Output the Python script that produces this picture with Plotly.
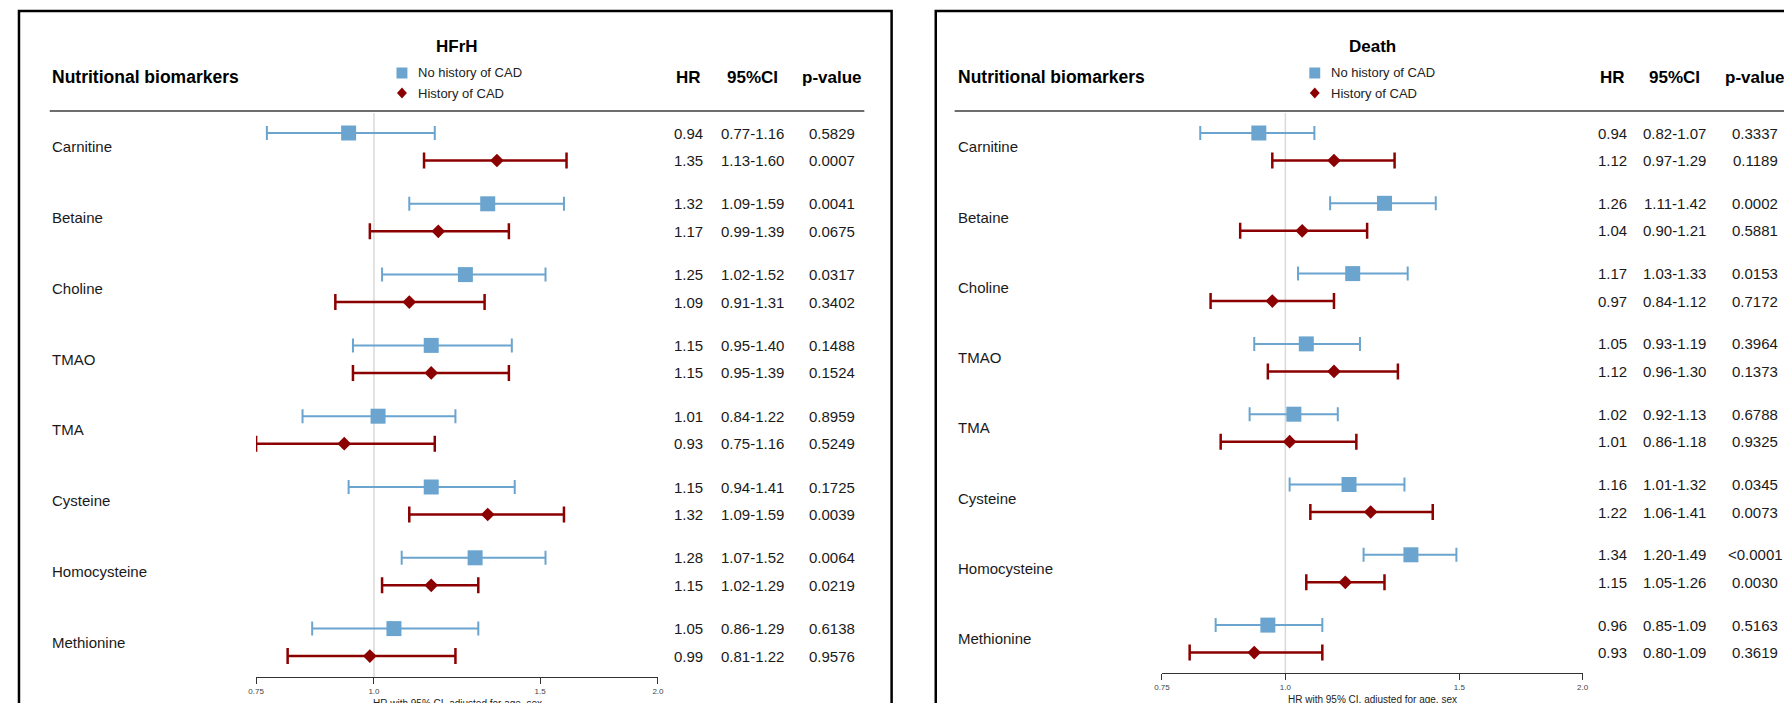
import math
import plotly.graph_objects as go

W, H = 1792, 703
OFF = 8  # page body margin that offsets the figure in the browser

biomarkers = ["Carnitine", "Betaine", "Choline", "TMAO", "TMA", "Cysteine", "Homocysteine", "Methionine"]

# HFrH panel
hfrh_no_hr = [0.94, 1.32, 1.25, 1.15, 1.01, 1.15, 1.28, 1.05]
hfrh_no_lo = [0.77, 1.09, 1.02, 0.95, 0.84, 0.94, 1.07, 0.86]
hfrh_no_hi = [1.16, 1.59, 1.52, 1.40, 1.22, 1.41, 1.52, 1.29]
hfrh_no_p = ["0.5829", "0.0041", "0.0317", "0.1488", "0.8959", "0.1725", "0.0064", "0.6138"]
hfrh_cad_hr = [1.35, 1.17, 1.09, 1.15, 0.93, 1.32, 1.15, 0.99]
hfrh_cad_lo = [1.13, 0.99, 0.91, 0.95, 0.75, 1.09, 1.02, 0.81]
hfrh_cad_hi = [1.60, 1.39, 1.31, 1.39, 1.16, 1.59, 1.29, 1.22]
hfrh_cad_p = ["0.0007", "0.0675", "0.3402", "0.1524", "0.5249", "0.0039", "0.0219", "0.9576"]

# Death panel
death_no_hr = [0.94, 1.26, 1.17, 1.05, 1.02, 1.16, 1.34, 0.96]
death_no_lo = [0.82, 1.11, 1.03, 0.93, 0.92, 1.01, 1.20, 0.85]
death_no_hi = [1.07, 1.42, 1.33, 1.19, 1.13, 1.32, 1.49, 1.09]
death_no_p = ["0.3337", "0.0002", "0.0153", "0.3964", "0.6788", "0.0345", "<0.0001", "0.5163"]
death_cad_hr = [1.12, 1.04, 0.97, 1.12, 1.01, 1.22, 1.15, 0.93]
death_cad_lo = [0.97, 0.90, 0.84, 0.96, 0.86, 1.06, 1.05, 0.80]
death_cad_hi = [1.29, 1.21, 1.12, 1.30, 1.18, 1.41, 1.26, 1.09]
death_cad_p = ["0.1189", "0.5881", "0.7172", "0.1373", "0.9325", "0.0073", "0.0030", "0.3619"]

tick_vals = [0.75, 1.0, 1.5, 2.0]
tick_text = ["0.75", "1.0", "1.5", "2.0"]
panel_titles = ["HFrH", "Death"]
group_names = ["No history of CAD", "History of CAD"]
col_headers = ["HR", "95%CI", "p-value"]
axis_title = "HR with 95% CI, adjusted for age, sex"

BLUE = "#6ba5cf"
RED = "#8b0000"
FONT = "Arial, 'Liberation Sans', sans-serif"
NARROW = "'Liberation Sans Narrow', 'Arial Narrow', Arial, sans-serif"
TXT = "#1a1a1a"


def px(x):
    return (x - OFF) / W


def py(y):
    return 1 - (y - OFF) / H


panels = [
    dict(title=panel_titles[0], xa="x", ya="y", xax="xaxis", yax="yaxis",
         ax0=250, ax1=655, axis_y=677, base=133.0, step=70.8, red_off=27.5,
         box=(11, 890.5), label_x=42, line=(42, 863), cols=(686, 750, 830),
         leg_x=397, title_y=47, atitle_y=703,
         data=(hfrh_no_hr, hfrh_no_lo, hfrh_no_hi, hfrh_no_p,
               hfrh_cad_hr, hfrh_cad_lo, hfrh_cad_hi, hfrh_cad_p)),
    dict(title=panel_titles[1], xa="x2", ya="y2", xax="xaxis2", yax="yaxis2",
         ax0=1163, ax1=1587, axis_y=673, base=133.0, step=70.3, red_off=27.5,
         box=(935, 1810), label_x=955, line=(954, 1810), cols=(1617, 1680, 1761),
         leg_x=1317, title_y=47, atitle_y=699,
         data=(death_no_hr, death_no_lo, death_no_hi, death_no_p,
               death_cad_hr, death_cad_lo, death_cad_hi, death_cad_p)),
]

fig = go.Figure()
shapes = []
annotations = []
layout_axes = {}

for p in panels:
    no_hr, no_lo, no_hi, no_p, cad_hr, cad_lo, cad_hi, cad_p = p["data"]
    n = len(biomarkers)
    off = p["red_off"] / p["step"]
    y_no = [k for k in range(n)]
    y_cad = [k + off for k in range(n)]
    y_lab = [k + off / 2 for k in range(n)]

    fig.add_trace(go.Scatter(
        x=no_hr, y=y_no, xaxis=p["xa"], yaxis=p["ya"], mode="markers",
        marker=dict(symbol="square", size=15, color=BLUE),
        error_x=dict(type="data", symmetric=False,
                     array=[h - m for h, m in zip(no_hi, no_hr)],
                     arrayminus=[m - l for m, l in zip(no_hr, no_lo)],
                     color=BLUE, thickness=2, width=7),
        cliponaxis=False, name=group_names[0], hoverinfo="skip"))
    fig.add_trace(go.Scatter(
        x=cad_hr, y=y_cad, xaxis=p["xa"], yaxis=p["ya"], mode="markers",
        marker=dict(symbol="diamond", size=10.5, color=RED),
        error_x=dict(type="data", symmetric=False,
                     array=[h - m for h, m in zip(cad_hi, cad_hr)],
                     arrayminus=[m - l for m, l in zip(cad_hr, cad_lo)],
                     color=RED, thickness=2.5, width=8),
        cliponaxis=False, name=group_names[1], hoverinfo="skip"))

    # axes (screen pixel -> row units)
    top_v = (OFF - p["base"]) / p["step"]
    bot_v = (OFF + H - p["base"]) / p["step"]
    layout_axes[p["xax"]] = dict(
        type="log", range=[math.log10(tick_vals[0]), math.log10(tick_vals[-1])],
        domain=[px(p["ax0"]), px(p["ax1"])], anchor="free", position=py(p["axis_y"]),
        showline=True, linecolor="#333333", linewidth=1, ticks="outside", ticklen=6,
        tickwidth=1, tickcolor="#333333", tickvals=tick_vals, ticktext=tick_text,
        tickfont=dict(family=NARROW, size=8, color="#444444"),
        showgrid=False, zeroline=False, fixedrange=True)
    layout_axes[p["yax"]] = dict(
        range=[bot_v, top_v], domain=[0, 1], anchor=p["xa"], visible=False,
        showgrid=False, zeroline=False, fixedrange=True)

    # box
    shapes.append(dict(type="rect", xref="paper", yref="paper",
                       x0=px(p["box"][0]), x1=px(p["box"][1]), y0=py(11), y1=py(H + 30),
                       line=dict(color="black", width=2.5), fillcolor="rgba(0,0,0,0)",
                       layer="above"))
    # header separator
    shapes.append(dict(type="line", xref="paper", yref="paper",
                       x0=px(p["line"][0]), x1=px(p["line"][1]), y0=py(111), y1=py(111),
                       line=dict(color="#6e6e6e", width=2)))
    # reference line at HR = 1
    shapes.append(dict(type="line", xref=p["xa"], yref="paper", x0=1, x1=1,
                       y0=py(113), y1=py(p["axis_y"]),
                       line=dict(color="#d9d9d9", width=1.5), layer="below"))

    # legend symbols
    lx = p["leg_x"]
    shapes.append(dict(type="rect", xref="paper", yref="paper",
                       x0=px(lx - 5.5), x1=px(lx + 5.5), y0=py(67.5), y1=py(78.5),
                       fillcolor=BLUE, line=dict(width=0)))
    dpath = "M {} {} L {} {} L {} {} L {} {} Z".format(
        px(lx), py(87.5), px(lx + 5), py(93), px(lx), py(98.5), px(lx - 5), py(93))
    shapes.append(dict(type="path", xref="paper", yref="paper", path=dpath,
                       fillcolor=RED, line=dict(width=0)))
    annotations.append(dict(xref="paper", yref="paper", x=px(lx + 14), y=py(72.5),
                            text=group_names[0], showarrow=False, xanchor="left",
                            yanchor="middle", font=dict(family=FONT, size=13, color="#222")))
    annotations.append(dict(xref="paper", yref="paper", x=px(lx + 14), y=py(93.5),
                            text=group_names[1], showarrow=False, xanchor="left",
                            yanchor="middle", font=dict(family=FONT, size=13, color="#222")))

    # title
    annotations.append(dict(xref="paper", yref="paper", x=px((p["ax0"] + p["ax1"]) / 2),
                            y=py(p["title_y"]), text=p["title"], showarrow=False,
                            xanchor="center", yanchor="middle",
                            font=dict(family=FONT, size=17, color="black", weight="bold")))
    # column headers
    annotations.append(dict(xref="paper", yref="paper", x=px(p["label_x"]), y=py(77),
                            text="Nutritional biomarkers", showarrow=False, xanchor="left",
                            yanchor="middle",
                            font=dict(family=FONT, size=17.5, color="black", weight="bold")))
    for cx, h in zip(p["cols"], col_headers):
        annotations.append(dict(xref="paper", yref="paper", x=px(cx), y=py(77), text=h,
                                showarrow=False, xanchor="center", yanchor="middle",
                                font=dict(family=FONT, size=17, color="black", weight="bold")))
    # axis title
    annotations.append(dict(xref="paper", yref="paper", x=px((p["ax0"] + p["ax1"]) / 2),
                            y=py(p["atitle_y"]), text=axis_title, showarrow=False,
                            xanchor="center", yanchor="middle",
                            font=dict(family=FONT, size=10, color="#222")))

    # row labels and value columns
    for k in range(n):
        annotations.append(dict(xref="paper", yref=p["ya"], x=px(p["label_x"]), y=y_lab[k],
                                text=biomarkers[k], showarrow=False, xanchor="left",
                                yanchor="middle", font=dict(family=FONT, size=15, color=TXT)))
        for yy, hr, lo, hi, pv in ((y_no[k], no_hr[k], no_lo[k], no_hi[k], no_p[k]),
                                   (y_cad[k], cad_hr[k], cad_lo[k], cad_hi[k], cad_p[k])):
            vals = ["{:.2f}".format(hr), "{:.2f}-{:.2f}".format(lo, hi), pv]
            for cx, t in zip(p["cols"], vals):
                annotations.append(dict(xref="paper", yref=p["ya"], x=px(cx), y=yy, text=t,
                                        showarrow=False, xanchor="center", yanchor="middle",
                                        font=dict(family=FONT, size=15, color=TXT)))

fig.update_layout(
    width=W, height=H, margin=dict(l=0, r=0, t=0, b=0),
    paper_bgcolor="white", plot_bgcolor="rgba(0,0,0,0)",
    showlegend=False, shapes=shapes, annotations=annotations,
    **layout_axes)

fig.write_html("out.html")
